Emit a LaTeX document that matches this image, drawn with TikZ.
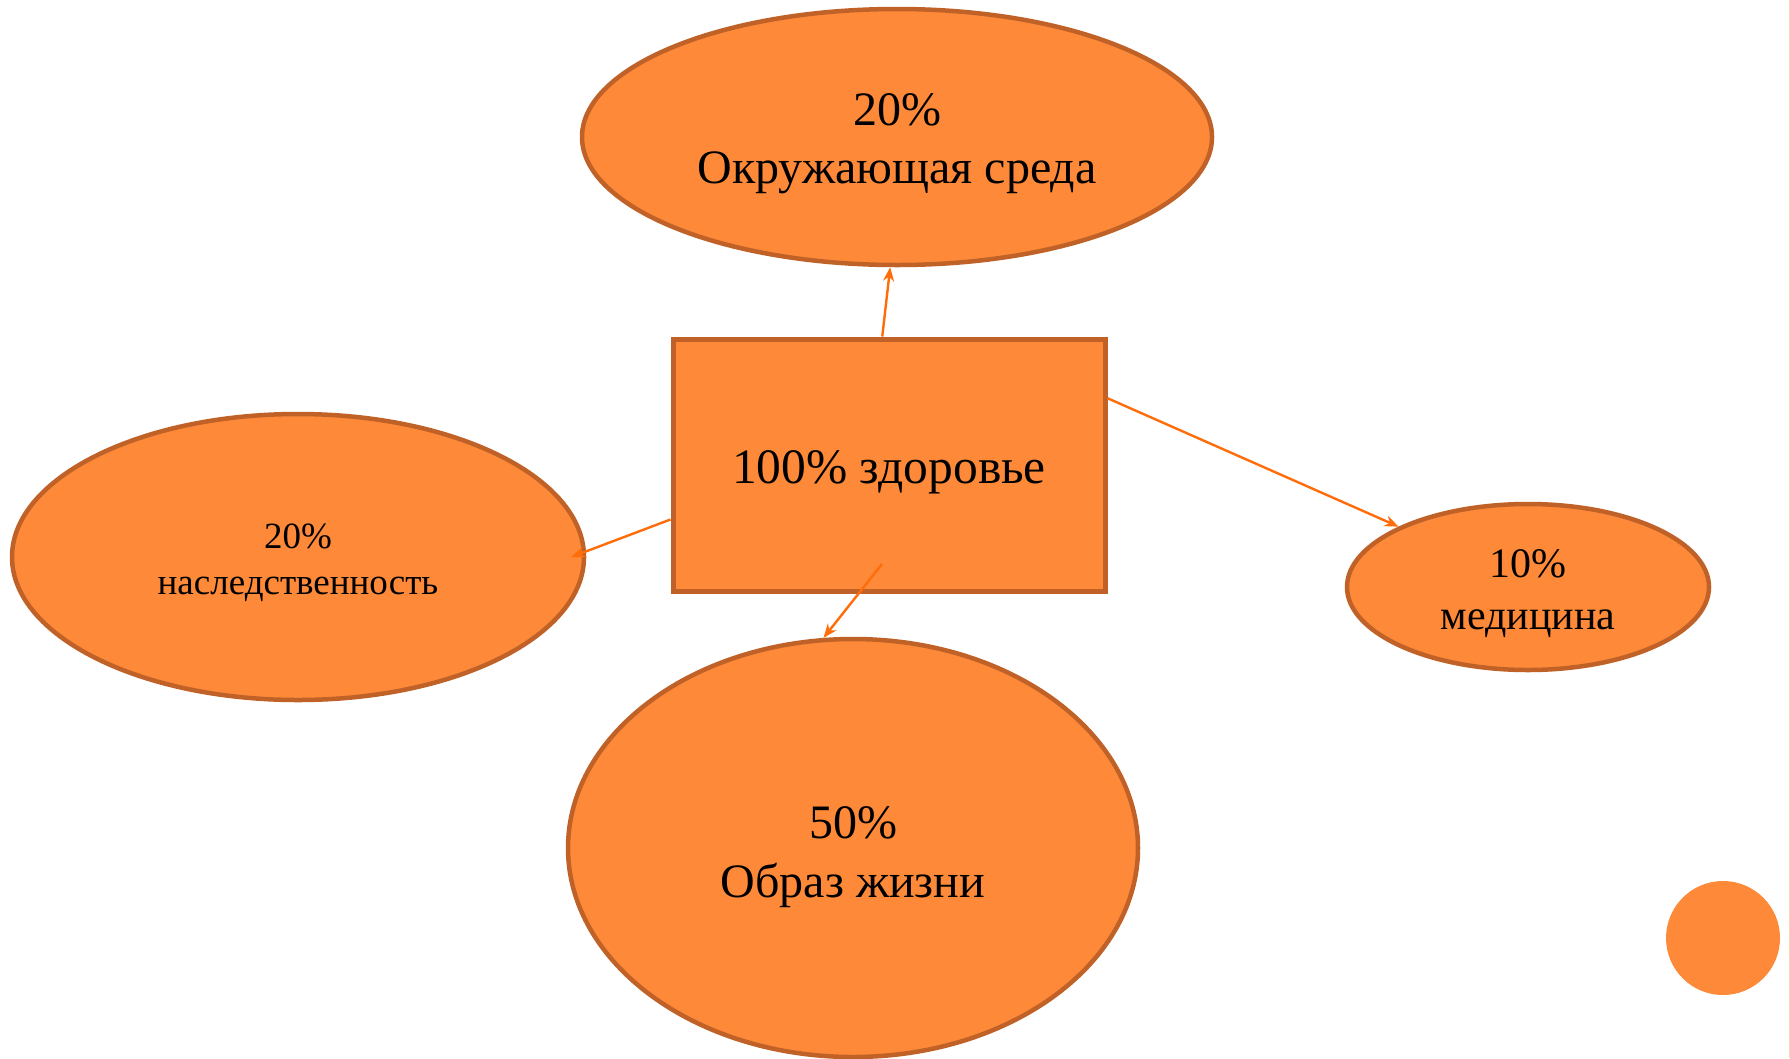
\documentclass[tikz,border=0pt]{standalone}
\usepackage{fontspec}
\setmainfont{Liberation Serif}
\usetikzlibrary{shapes.geometric,arrows.meta}
\definecolor{blobfill}{RGB}{253,137,57}
\definecolor{blobedge}{RGB}{192,98,40}
\definecolor{arrowcol}{RGB}{255,108,10}
\begin{document}
\begin{tikzpicture}[x=1pt,y=-1pt,
    blob/.style={ellipse,fill=blobfill,draw=blobedge,line width=4.5pt,inner sep=0pt},
    words/.style={align=center,inner sep=0pt},
    link/.style={draw=arrowcol,line width=2.4pt,-{Stealth[length=14pt,width=11pt]}}]
      \useasboundingbox (0,0) rectangle (1790,1058);
      \draw[orange!30,line width=1pt] (1789,0) -- (1789,1058);

      \node[draw=blobedge,fill=blobfill,line width=5pt,minimum width=432pt,minimum height=252pt] (health) at (889,465) {};
      \node[words,font=\fontsize{49.5}{58}\selectfont] (healthtxt) at ([yshift=-7pt]health.center) {100\% здоровье};

      \node[blob,minimum width=630pt,minimum height=256pt] (env) at (897,137) {};
      \node[words,font=\fontsize{48}{58}\selectfont] (envtxt) at ([yshift=-7pt]env.center) {20\%\\Окружающая среда};

      \node[blob,minimum width=572pt,minimum height=286pt] (gene) at (298,557) {};
      \node[words,font=\fontsize{37}{46}\selectfont] (genetxt) at ([yshift=-6pt]gene.center) {20\%\\наследственность};

      \node[blob,minimum width=362pt,minimum height=166pt] (med) at (1528,587) {};
      \node[words,font=\fontsize{42}{52}\selectfont] (medtxt) at ([yshift=-7pt]med.center) {10\%\\медицина};

      \node[blob,minimum width=570pt,minimum height=418pt] (life) at (853,848) {};
      \node[words,font=\fontsize{48}{59}\selectfont] (lifetxt) at ([yshift=-9pt]life.center) {50\%\\Образ жизни};

      \fill[blobfill] (1723,938) circle (57);

      \coordinate (inner) at (882,564);
      \draw[link] (health.93) -- (env.267);
      \draw[link] (health.194) -- ([xshift=-15pt]gene.east);
      \draw[link] (inner) -- (life.98);
      \draw[link] (health.17) -- (med.155);
    \end{tikzpicture}
\end{document}
